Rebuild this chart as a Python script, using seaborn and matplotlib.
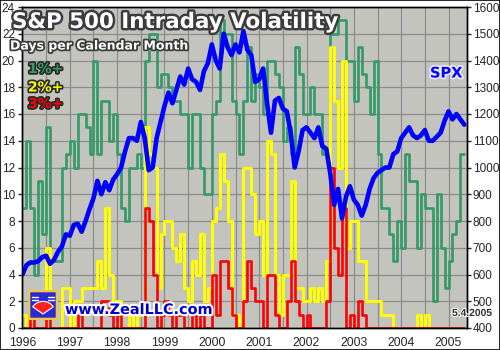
import numpy as np
import pandas as pd
import matplotlib
matplotlib.use('Agg')
import matplotlib.pyplot as plt
import seaborn as sns
from matplotlib import patheffects as pe
from matplotlib.patches import Rectangle, FancyBboxPatch, Wedge

# monthly counts, Jan 1996 .. Apr 2005
days_1pct = [9, 14, 9, 4, 11, 7, 15, 5, 5, 5, 12, 13,
             14, 12, 16, 16, 15, 13, 20, 13, 17, 17, 14, 16,
             13, 9, 8, 12, 12, 13, 12, 20, 22, 22, 18, 19,
             19, 18, 17, 17, 16, 16, 12, 16, 16, 12, 10, 10,
             16, 17, 23, 22, 22, 17, 16, 13, 17, 21, 17, 19,
             18, 16, 20, 20, 19, 18, 14, 15, 13, 21, 19, 16,
             16, 18, 16, 16, 13, 13, 22, 22, 23, 23, 20, 20,
             17, 21, 19, 18, 16, 20, 13, 9, 9, 7, 5, 8,
             6, 13, 11, 11, 6, 10, 9, 9, 2, 10, 6, 3,
             5, 7, 8, 13]
days_2pct = [1, 0, 1, 0, 0, 0, 6, 0, 0, 0, 3, 3,
             0, 2, 2, 3, 3, 3, 3, 5, 3, 9, 4, 2,
             2, 0, 0, 1, 0, 1, 1, 15, 13, 12, 3, 7,
             8, 8, 6, 5, 7, 3, 2, 5, 4, 7, 2, 3,
             8, 9, 13, 11, 8, 1, 1, 0, 12, 12, 10, 7,
             8, 4, 14, 13, 4, 1, 4, 4, 11, 3, 3, 2,
             2, 3, 2, 3, 2, 5, 21, 17, 12, 20, 6, 8,
             8, 5, 5, 2, 2, 2, 2, 1, 1, 1, 0, 0,
             0, 0, 0, 0, 1, 0, 1, 0, 0, 0, 0, 0,
             0, 0, 0, 0]
days_3pct = [0, 0, 1, 0, 0, 0, 1, 0, 0, 0, 0, 0,
             0, 0, 1, 0, 0, 0, 0, 0, 2, 2, 1, 0,
             1, 0, 0, 0, 0, 0, 0, 9, 8, 4, 0, 1,
             2, 1, 0, 1, 1, 0, 0, 1, 0, 1, 0, 0,
             4, 1, 5, 5, 3, 1, 0, 0, 2, 5, 3, 2,
             2, 0, 4, 4, 1, 0, 0, 2, 5, 2, 1, 0,
             1, 0, 0, 0, 0, 2, 12, 6, 4, 9, 0, 1,
             0, 2, 1, 0, 0, 0, 0, 0, 0, 0, 0, 0,
             0, 0, 0, 0, 0, 0, 0, 0, 0, 0, 0, 0,
             0, 0, 0, 0]
# S&P 500 level at the start of each month, Jan 1996 .. May 2005
spx = [600, 635, 645, 645, 650, 665, 670, 640, 655, 685, 705, 750,
       745, 785, 790, 760, 800, 845, 885, 950, 900, 945, 915, 955,
       975, 1000, 1060, 1110, 1110, 1100, 1170, 1110, 990, 1000, 1110, 1170,
       1230, 1280, 1240, 1290, 1340, 1310, 1370, 1330, 1320, 1290, 1360, 1390,
       1460, 1400, 1370, 1500, 1450, 1420, 1460, 1430, 1510, 1440, 1420, 1320,
       1330, 1370, 1240, 1130, 1250, 1260, 1220, 1210, 1130, 1000, 1060, 1140,
       1150, 1130, 1110, 1150, 1080, 1070, 980, 860, 920, 810, 890, 930,
       880, 860, 820, 860, 920, 960, 980, 990, 1000, 1000, 1050, 1060,
       1110, 1130, 1150, 1120, 1110, 1120, 1140, 1100, 1100, 1115, 1130, 1175,
       1210, 1180, 1200, 1180, 1160]
year_ticks = list(range(1996, 2006))

t = [1996 + i / 12 for i in range(len(days_1pct) + 1)]
steps = pd.DataFrame({'t': t,
                      'one': days_1pct + [days_1pct[-1]],
                      'two': days_2pct + [days_2pct[-1]],
                      'three': days_3pct + [days_3pct[-1]]})
spx_df = pd.DataFrame({'t': [1996 + i / 12 for i in range(len(spx))], 'spx': spx})

sns.set_style('white')
plt.rcParams['font.family'] = ['Liberation Sans', 'DejaVu Sans']

fig = plt.figure(figsize=(5, 3.5), dpi=100)
ax = fig.add_axes([22 / 500, 22 / 350, 445 / 500, 321 / 350])
ax.set_facecolor('#c4c4bf')

sns.lineplot(data=steps, x='t', y='one', ax=ax, color='#339966', lw=1.9, drawstyle='steps-post')
sns.lineplot(data=steps, x='t', y='two', ax=ax, color='#ffff00', lw=2.1, drawstyle='steps-post')
sns.lineplot(data=steps, x='t', y='three', ax=ax, color='#ff0000', lw=1.9, drawstyle='steps-post')

ax2 = ax.twinx()
sns.lineplot(data=spx_df, x='t', y='spx', ax=ax2, color='#0000ff', lw=3.3)

ax.set_xlim(1995.99, 2005.39)
ax.set_ylim(0, 24)
ax2.set_ylim(400, 1600)
ax.set_xticks(year_ticks)
ax.set_xticks(np.arange(1996.5, 2005.5, 1), minor=True)
ax.set_yticks(range(0, 25, 2))
ax2.set_yticks(range(400, 1700, 100))
for a in (ax, ax2):
    a.set_xlabel('')
    a.set_ylabel('')
    for s in a.spines.values():
        s.set_color('black')
        s.set_linewidth(1)
ax.set_axisbelow(True)
ax.grid(True, which='both', axis='x', color='#8c8c8c', lw=0.9)
ax.grid(True, which='major', axis='y', color='#8c8c8c', lw=0.9)
ax2.grid(False)
ax.tick_params(axis='x', which='major', direction='out', length=3.5, width=1, pad=3, labelsize=8.8)
ax.tick_params(axis='x', which='minor', length=0)
ax.tick_params(axis='y', direction='out', length=3, width=1, pad=2, labelsize=8.5, left=True)
ax2.tick_params(axis='y', direction='out', length=3, width=1, pad=1, labelsize=8.5, right=True)

def px(x, y):
    return x / 500, 1 - y / 350

fig.text(*px(12, 22), 'S&P 500 Intraday Volatility', ha='left', va='center',
         family='DejaVu Sans', weight='bold', fontsize=15.4, color='white',
         path_effects=[pe.withStroke(linewidth=3.5, foreground='#3c3c3c')])
fig.text(*px(10, 46), 'Days per Calendar Month', ha='left', va='center',
         family='DejaVu Sans', weight='bold', fontsize=9, color='white',
         path_effects=[pe.withStroke(linewidth=2.5, foreground='#3c3c3c')])
for label, col, yy in [('1%+', '#339966', 69), ('2%+', '#ffff00', 87.5), ('3%+', '#ff0000', 104)]:
    fig.text(*px(28, yy), label, ha='left', va='center', family='DejaVu Sans',
             weight='bold', fontsize=10, color=col,
             path_effects=[pe.withStroke(linewidth=2.5, foreground='#2a2a2a')])
fig.text(*px(430, 73), 'SPX', ha='left', va='center', family='DejaVu Sans',
         weight='bold', fontsize=10.5, color='#0000ff',
         path_effects=[pe.withStroke(linewidth=2.5, foreground='#e6e6ff')])
fig.text(*px(65, 310), 'www.ZealLLC.com', ha='left', va='center', family='DejaVu Sans',
         weight='bold', fontsize=10.4, color='#0000cc',
         path_effects=[pe.withStroke(linewidth=3, foreground='white')])
fig.text(*px(452, 313), '5.4.2005', ha='left', va='center', weight='bold',
         fontsize=7.4, color='#333333',
         path_effects=[pe.withStroke(linewidth=1.5, foreground='white')])

# logo
lx = fig.add_axes([28 / 500, 30 / 350, 30 / 500, 30 / 350], zorder=5)
lx.set_xlim(0, 1)
lx.set_ylim(0, 1)
lx.axis('off')
lx.add_patch(FancyBboxPatch((0.05, 0.05), 0.9, 0.9, boxstyle='round,pad=0.02',
                            fc='#2a2ad0', ec='#f5c542', lw=2))
lx.add_patch(Wedge((0.5, 0.2), 0.42, 35, 145, fc='#ff2020', ec='white', lw=0.8))
for yy in (0.78, 0.68):
    lx.plot([0.12, 0.32], [yy, yy], color='white', lw=1)
    lx.plot([0.68, 0.88], [yy, yy], color='white', lw=1)

fig.add_artist(Rectangle((0, 0), 1, 1, transform=fig.transFigure, fill=False,
                         ec='black', lw=1.2))

fig.savefig('out.png', dpi=100)
